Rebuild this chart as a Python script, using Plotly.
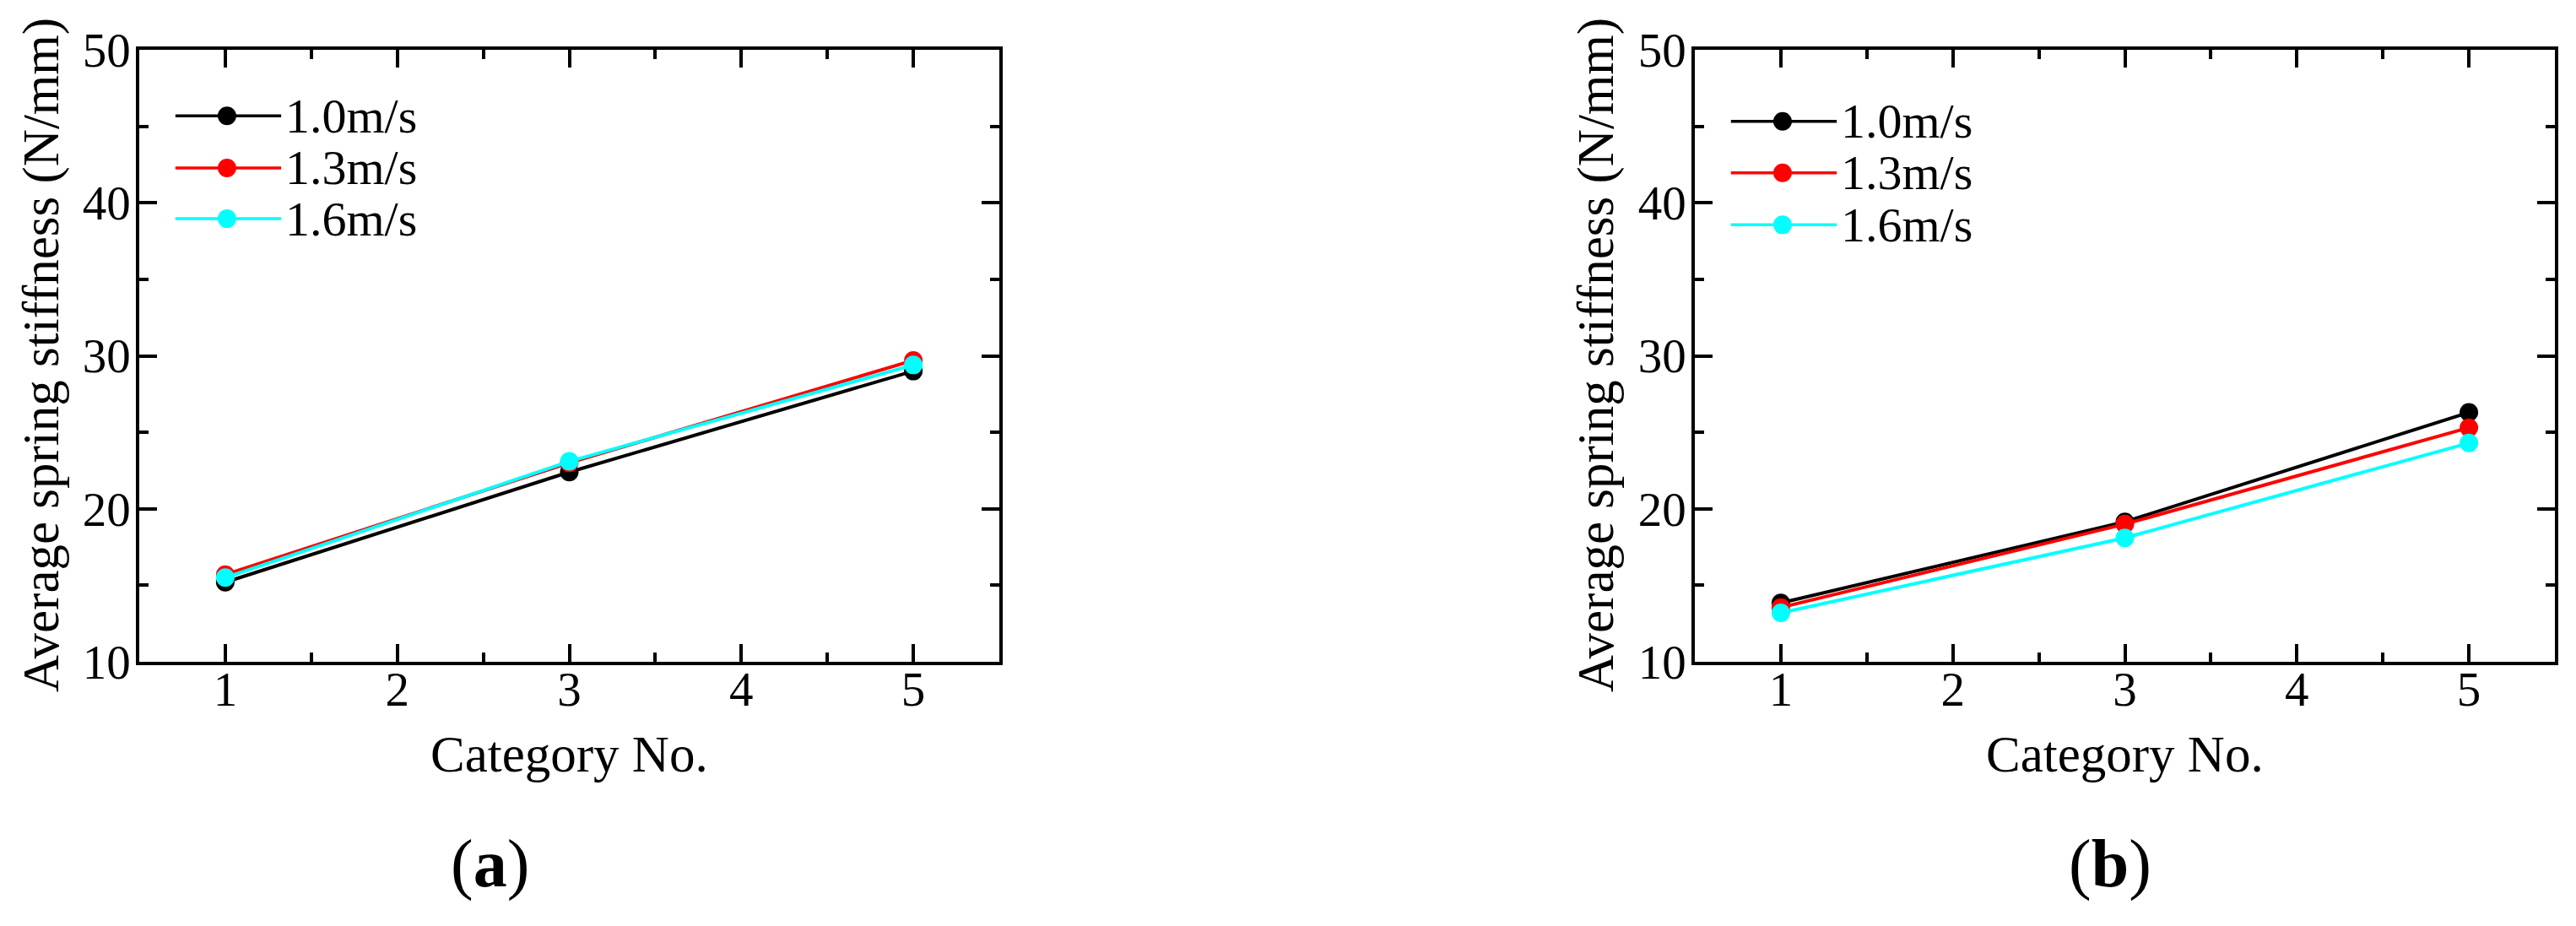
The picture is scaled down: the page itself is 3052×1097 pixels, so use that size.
import plotly.graph_objects as go

# ---------------- data ----------------
categories = [1, 3, 5]
speeds = ["1.0m/s", "1.3m/s", "1.6m/s"]
colors = ["#000000", "#ff0000", "#00ffff"]

# panel (a)
a_v10 = [15.2, 22.4, 29.0]
a_v13 = [15.7, 23.0, 29.7]
a_v16 = [15.5, 23.1, 29.4]
# panel (b)
b_v10 = [13.85, 19.15, 26.3]
b_v13 = [13.55, 19.0, 25.3]
b_v16 = [13.2, 18.1, 24.3]

x_ticks = [1, 2, 3, 4, 5]
y_ticks = [10, 20, 30, 40, 50]
x_title = "Category No."
y_title = "Average spring stiffness (N/mm)"
panel_labels = ["(<b>a</b>)", "(<b>b</b>)"]

# ---------------- layout constants ----------------
W, H = 3052, 1097
OFF = 8  # page body margin
FONT = "Liberation Serif, Times New Roman, serif"
LW = 3.5

def px_x(p):
    return (p - OFF) / W

def px_y(p):
    return 1 - (p - OFF) / H

dom_x = [[px_x(165), px_x(1184)], [px_x(2008), px_x(3027)]]
dom_y = [px_y(784), px_y(59)]

fig = go.Figure()

panels = [[a_v10, a_v13, a_v16], [b_v10, b_v13, b_v16]]
for i, series in enumerate(panels):
    xa = "x" if i == 0 else "x2"
    ya = "y" if i == 0 else "y2"
    for name, vals, col in zip(speeds, series, colors):
        fig.add_trace(go.Scatter(
            x=categories, y=vals, mode="lines+markers", name=name,
            line=dict(color=col, width=4),
            marker=dict(color=col, size=22, symbol="circle", line=dict(width=0)),
            xaxis=xa, yaxis=ya, showlegend=False))

axis_common = dict(
    showline=True, linewidth=LW, linecolor="black", mirror="allticks",
    ticks="inside", ticklen=21, tickwidth=LW, tickcolor="black",
    showgrid=False, zeroline=False, automargin=False,
    tickfont=dict(family=FONT, size=57, color="black"),
)

for i in range(2):
    sx = "" if i == 0 else "2"
    fig.update_layout(**{
        f"xaxis{sx}": dict(axis_common, domain=dom_x[i], range=[0.5, 5.5],
                           tickvals=x_ticks, anchor=f"y{sx}", ticklabelstandoff=-20,
                           minor=dict(ticks="inside", ticklen=11, tickwidth=LW,
                                      tickcolor="black", dtick=0.5, tick0=0.5)),
        f"yaxis{sx}": dict(axis_common, domain=dom_y, range=[10, 50],
                           tickvals=y_ticks, anchor=f"x{sx}", ticklabelstandoff=-5,
                           minor=dict(ticks="inside", ticklen=11, tickwidth=LW,
                                      tickcolor="black", dtick=5, tick0=10)),
    })

annotations = []
shapes = []
# axis titles and panel labels
ytitle_x = [49, 1891]
xtitle_x = [674, 2517]
label_x = [580, 2500]
for i in range(2):
    annotations.append(dict(text=y_title, xref="paper", yref="paper",
                            x=px_x(ytitle_x[i]), y=px_y(421), textangle=-90,
                            showarrow=False, xanchor="center", yanchor="middle",
                            font=dict(family=FONT, size=61, color="black")))
    annotations.append(dict(text=x_title, xref="paper", yref="paper",
                            x=px_x(xtitle_x[i]), y=px_y(893),
                            showarrow=False, xanchor="center", yanchor="middle",
                            font=dict(family=FONT, size=61, color="black")))
    annotations.append(dict(text=panel_labels[i], xref="paper", yref="paper",
                            x=px_x(label_x[i]), y=px_y(1024),
                            showarrow=False, xanchor="center", yanchor="middle",
                            font=dict(family=FONT, size=80, color="black")))

# custom legends (line sample + marker + text), in axis-domain coordinates
leg_rows = [[0.892, 0.807, 0.724], [0.883, 0.799, 0.714]]
for i in range(2):
    sx = "" if i == 0 else "2"
    for j, (name, col) in enumerate(zip(speeds, colors)):
        yy = leg_rows[i][j]
        shapes.append(dict(type="line", xref=f"x{sx} domain", yref=f"y{sx} domain",
                           x0=0.042, x1=0.165, y0=yy, y1=yy,
                           line=dict(color=col, width=LW)))
        shapes.append(dict(type="circle", xref=f"x{sx} domain", yref=f"y{sx} domain",
                           xsizemode="pixel", ysizemode="pixel",
                           xanchor=0.102, yanchor=yy, x0=-11, x1=11, y0=-11, y1=11,
                           fillcolor=col, line=dict(width=0)))
        annotations.append(dict(text=name, xref=f"x{sx} domain", yref=f"y{sx} domain",
                                x=0.168, y=yy, showarrow=False,
                                xanchor="left", yanchor="middle",
                                font=dict(family=FONT, size=58, color="black")))

fig.update_layout(
    width=W, height=H, autosize=False,
    margin=dict(l=0, r=0, t=0, b=0, pad=0, autoexpand=False),
    paper_bgcolor="white", plot_bgcolor="white",
    showlegend=False,
    annotations=annotations, shapes=shapes,
)

fig.write_html("out.html")
